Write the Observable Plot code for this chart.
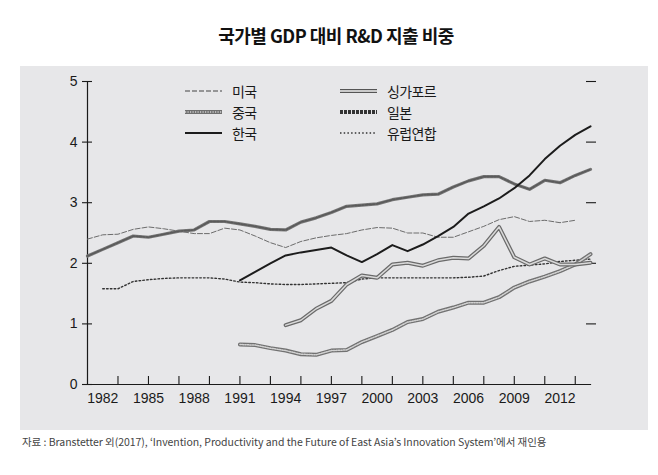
<!DOCTYPE html>
<html><head><meta charset="utf-8">
<script src="https://cdn.jsdelivr.net/npm/d3@7"></script>
<script src="https://cdn.jsdelivr.net/npm/@observablehq/plot@0.6"></script>
<style>
body{margin:0;width:658px;height:475px;background:#fff;position:relative;overflow:hidden;font-family:"Noto Sans CJK KR","Noto Sans",sans-serif;}
#title{position:absolute;top:22px;left:0;width:672px;text-align:center;font-weight:bold;font-size:18px;letter-spacing:-0.5px;color:#111;line-height:26px;}
#panel{position:absolute;left:20px;top:66px;width:628px;height:364px;background:#e7e7e9;}
#chart{position:absolute;left:20px;top:66px;}
.lg{position:absolute;height:20px;display:flex;align-items:center;}
.lg span{font-size:14px;color:#1a1a1a;letter-spacing:-0.6px;margin-left:10px;}
#caption{position:absolute;left:22px;top:434px;font-size:10.5px;color:#444;white-space:nowrap;letter-spacing:-0.05px;}
</style></head>
<body>
<div id="title">국가별 GDP 대비 R&amp;D 지출 비중</div>
<div id="panel"></div>
<div id="chart"></div>
<div id="legend"></div>
<div id="caption">자료 : Branstetter 외(2017), ‘Invention, Productivity and the Future of East Asia’s Innovation System’에서 재인용</div>
<script>
const usValues = [2.40, 2.47, 2.48, 2.56, 2.60, 2.57, 2.53, 2.49, 2.49, 2.58,
  2.55, 2.45, 2.34, 2.26, 2.36, 2.42, 2.46, 2.49, 2.55, 2.59,
  2.58, 2.50, 2.50, 2.43, 2.43, 2.52, 2.61, 2.72, 2.77, 2.69,
  2.71, 2.67, 2.71]; // 1981-2013
const japanValues = [2.12, 2.23, 2.34, 2.45, 2.43, 2.48, 2.53, 2.55, 2.69, 2.69,
  2.65, 2.61, 2.56, 2.55, 2.68, 2.75, 2.84, 2.94, 2.96, 2.98,
  3.05, 3.09, 3.13, 3.14, 3.26, 3.36, 3.43, 3.43, 3.31, 3.22,
  3.37, 3.33, 3.45, 3.55]; // 1981-2014
const euValues = [1.58, 1.58, 1.70, 1.73, 1.75, 1.76, 1.76, 1.76, 1.74,
  1.69, 1.68, 1.66, 1.65, 1.65, 1.66, 1.67, 1.68, 1.74, 1.76,
  1.76, 1.76, 1.76, 1.76, 1.76, 1.77, 1.79, 1.88, 1.95, 1.97,
  1.99, 2.03, 2.05, 2.07]; // 1982-2014
const koreaValues = [1.72, 1.86, 2.00, 2.13, 2.18, 2.22, 2.26, 2.13, 2.02, 2.15,
  2.30, 2.20, 2.31, 2.45, 2.60, 2.82, 2.94, 3.07, 3.24, 3.45,
  3.72, 3.94, 4.12, 4.26]; // 1991-2014
const chinaValues = [0.66, 0.65, 0.60, 0.56, 0.50, 0.49, 0.56, 0.57, 0.70, 0.80,
  0.90, 1.03, 1.08, 1.20, 1.27, 1.35, 1.35, 1.44, 1.60, 1.70,
  1.78, 1.87, 1.98, 2.15]; // 1991-2014
const singaporeValues = [0.98, 1.06, 1.25, 1.38, 1.65, 1.80, 1.76,
  1.98, 2.01, 1.96, 2.05, 2.09, 2.08, 2.29, 2.60, 2.10, 1.98,
  2.08, 1.98, 1.98, 2.01]; // 1994-2014
const startYears = {us: 1981, japan: 1981, eu: 1982, korea: 1991, china: 1991, singapore: 1994};
const labelYears = [1982, 1985, 1988, 1991, 1994, 1997, 2000, 2003, 2006, 2009, 2012];
const tickYears = [1983, 1985, 1987, 1989, 1991, 1993, 1995, 1997, 1999, 2001, 2003, 2005, 2007, 2009, 2011, 2013];
const yTicks = [0, 1, 2, 3, 4, 5];
const seriesNames = ["미국", "중국", "한국", "싱가포르", "일본", "유럽연합"];

const rows = (start, vals) => vals.map((v, i) => ({year: start + i, value: v}));
const us = rows(startYears.us, usValues);
const japan = rows(startYears.japan, japanValues);
const eu = rows(startYears.eu, euValues);
const korea = rows(startYears.korea, koreaValues);
const china = rows(startYears.china, chinaValues);
const singapore = rows(startYears.singapore, singaporeValues);

const enc = {x: "year", y: "value", curve: "linear", strokeLinejoin: "round"};

const chart = Plot.plot({
  width: 628,
  height: 364,
  marginLeft: 67,
  marginRight: 58,
  marginTop: 15,
  marginBottom: 46,
  style: {background: "transparent", fontFamily: "'Liberation Sans', Arial, sans-serif", fontSize: "14px", color: "#1a1a1a"},
  x: {domain: [1981, 2014], label: null},
  y: {domain: [0, 5], label: null},
  marks: [
    Plot.frame({anchor: "left", stroke: "#1a1a1a", strokeWidth: 1.2}),
    Plot.frame({anchor: "bottom", stroke: "#1a1a1a", strokeWidth: 1.2}),
    Plot.axisY({ticks: yTicks, tickSize: 10, dx: 5, tickPadding: 5, tickFormat: d => String(d), fontSize: 14, label: null, strokeWidth: 1.1}),
    Plot.axisY({anchor: "right", ticks: yTicks.slice(1), tickSize: 10, dx: -5, fill: "none", label: null, strokeWidth: 1.1}),
    Plot.axisX({ticks: tickYears, tickSize: 8, dy: -8, fill: "none", label: null, strokeWidth: 1.1}),
    Plot.axisX({ticks: labelYears, tickSize: 0, tickPadding: 9, tickFormat: d => String(d), fontSize: 14, label: null, style: {letterSpacing: "-0.8px"}}),
    // 미국
    Plot.line(us, {...enc, stroke: "#6c6c6c", strokeWidth: 1, strokeDasharray: "5,2"}),
    // 유럽연합
    Plot.line(eu, {...enc, stroke: "#333", strokeWidth: 1.4, strokeDasharray: "1.6,2.2"}),
    // 중국
    Plot.line(china, {...enc, stroke: "#727272", strokeWidth: 4}),
    Plot.line(china, {...enc, stroke: "#d2d2d2", strokeWidth: 1.5, strokeDasharray: "1.2,1.3"}),
    // 싱가포르
    Plot.line(singapore, {...enc, stroke: "#6a6a6a", strokeWidth: 4}),
    Plot.line(singapore, {...enc, stroke: "#dadada", strokeWidth: 1.5}),
    // 일본
    Plot.line(japan, {...enc, stroke: "#767676", strokeWidth: 3.2}),
    Plot.line(japan, {...enc, stroke: "#5a5a5a", strokeWidth: 1.6, strokeDasharray: "2,1.5"}),
    // 한국
    Plot.line(korea, {...enc, stroke: "#1c1c1c", strokeWidth: 2})
  ]
});
document.getElementById("chart").appendChild(chart);

// legend
const swatches = {
  "미국": [{stroke: "#444", w: 1.1, dash: "5,2"}],
  "중국": [{stroke: "#6f6f6f", w: 4}, {stroke: "#cfcfcf", w: 1.5, dash: "1.2,1.3"}],
  "한국": [{stroke: "#1c1c1c", w: 2.2}],
  "싱가포르": [{stroke: "#555", w: 4}, {stroke: "#f2f2f2", w: 1.5}],
  "일본": [{stroke: "#333", w: 4, dash: "3,1"}],
  "유럽연합": [{stroke: "#333", w: 1.3, dash: "1.5,2.2"}]
};
const legendPos = [
  {left: 185, top: 81}, {left: 185, top: 102}, {left: 185, top: 123},
  {left: 340, top: 81}, {left: 340, top: 102}, {left: 340, top: 123}
];
const legend = document.getElementById("legend");
seriesNames.forEach((name, i) => {
  const div = document.createElement("div");
  div.className = "lg";
  div.style.left = legendPos[i].left + "px";
  div.style.top = legendPos[i].top + "px";
  const lines = swatches[name].map(s =>
    `<line x1="0" x2="37" y1="7" y2="7" stroke="${s.stroke}" stroke-width="${s.w}" ${s.dash ? `stroke-dasharray="${s.dash}"` : ""}/>`).join("");
  div.innerHTML = `<svg width="37" height="14">${lines}</svg><span>${name}</span>`;
  legend.appendChild(div);
});
</script>
</body></html>
